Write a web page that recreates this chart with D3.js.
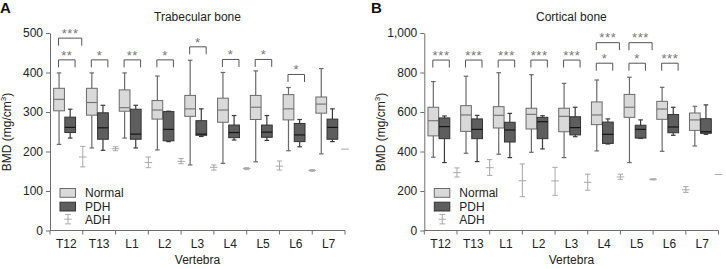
<!DOCTYPE html>
<html>
<head>
<meta charset="utf-8">
<script src="https://cdn.jsdelivr.net/npm/d3@7"></script>
<style>
  body { margin: 0; background: #fff; }
  text { font-family: Arial, "Liberation Sans", sans-serif; }
</style>
</head>
<body>
<script>
const vertebrae = ["T12", "T13", "L1", "L2", "L3", "L4", "L5", "L6", "L7"];

// box stats: [min, q1, median, q3, max]
const trabNormal = [
  [218, 303, 332, 360, 399], [209, 292, 324, 360, 399], [234, 302, 311, 356, 399],
  [204, 282, 305, 329, 391], [166, 289, 308, 342, 431], [170, 274, 305, 335, 400],
  [174, 281, 312, 342, 404], [202, 280, 308, 344, 362], [194, 297, 320, 338, 410]
];
const trabPDH = [
  [234, 248, 261, 287, 307], [203, 231, 260, 298, 317], [209, 231, 244, 307, 317],
  [225, 227, 256, 301, 302], [238, 241, 244, 278, 308], [229, 235, 248, 267, 291],
  [228, 236, 249, 267, 291], [212, 225, 242, 271, 281], [225, 231, 261, 282, 308]
];
// ADH: [mean, low, high]
const trabADH = [
  [186, 161, 213], [207, 202, 212], [172, 159, 186], [175, 169, 182], [160, 153, 166],
  [157, 154, 159], [163, 153, 176], [152, 150, 154], [206, 206, 206]
];
const trabSig = [
  { cat: "T12", vs: "PDH", label: "**", level: 432 },
  { cat: "T12", vs: "ADH", label: "***", level: 487 },
  { cat: "T13", vs: "PDH", label: "*", level: 432 },
  { cat: "L1", vs: "PDH", label: "**", level: 432 },
  { cat: "L2", vs: "PDH", label: "*", level: 432 },
  { cat: "L3", vs: "PDH", label: "*", level: 465 },
  { cat: "L4", vs: "PDH", label: "*", level: 433 },
  { cat: "L5", vs: "PDH", label: "*", level: 433 },
  { cat: "L6", vs: "PDH", label: "*", level: 395 }
];
const trabTicks = [0, 100, 200, 300, 400, 500];

const cortNormal = [
  [371, 479, 556, 624, 754], [391, 502, 585, 632, 781], [386, 519, 583, 627, 799],
  [396, 514, 588, 619, 789], [369, 500, 578, 619, 745], [403, 536, 585, 651, 762],
  [344, 573, 624, 689, 776], [401, 563, 615, 654, 725], [428, 507, 560, 595, 629]
];
const cortPDH = [
  [344, 465, 526, 570, 580], [349, 465, 512, 565, 583], [369, 448, 509, 548, 593],
  [413, 465, 551, 573, 581], [475, 484, 521, 576, 624], [438, 441, 487, 549, 565],
  [466, 468, 512, 533, 560], [482, 495, 524, 587, 624], [487, 492, 500, 566, 636]
];
const cortADH = [
  [293, 271, 317], [318, 279, 359], [252, 171, 337], [251, 178, 320], [244, 204, 285],
  [271, 259, 285], [259, 256, 262], [206, 193, 222], [284, 284, 284]
];
const cortSig = [
  { cat: "T12", vs: "PDH", label: "***", level: 863 },
  { cat: "T13", vs: "PDH", label: "***", level: 863 },
  { cat: "L1", vs: "PDH", label: "***", level: 863 },
  { cat: "L2", vs: "PDH", label: "***", level: 863 },
  { cat: "L3", vs: "PDH", label: "***", level: 863 },
  { cat: "L4", vs: "PDH", label: "*", level: 847 },
  { cat: "L4", vs: "ADH", label: "***", level: 951 },
  { cat: "L5", vs: "PDH", label: "*", level: 847 },
  { cat: "L5", vs: "ADH", label: "***", level: 951 },
  { cat: "L6", vs: "PDH", label: "***", level: 847 }
];
const cortTicks = [0, 200, 400, 600, 800, 1000];

const legendItems = ["Normal", "PDH", "ADH"];

const width = 726, height = 269;
const svg = d3.select("body").append("svg")
  .attr("width", width)
  .attr("height", height);

const axisColor = "#6e6e6e";

function drawPanel(p) {
  const x = d3.scaleBand().domain(vertebrae).range([p.left, p.right]);
  const y = d3.scaleLinear().domain([0, p.yMax]).range([230.5, 33]);
  const bw = x.bandwidth();
  const g = svg.append("g");

  // panel letter + title
  g.append("text").attr("x", p.letterX).attr("y", 13)
    .attr("font-size", 15).attr("font-weight", "bold").attr("fill", "#111")
    .text(p.letter);
  g.append("text").attr("x", (p.left + p.right) / 2).attr("y", 21)
    .attr("text-anchor", "middle").attr("font-size", 12).attr("fill", "#222")
    .text(p.title);

  // y axis
  const ya = g.append("g")
    .attr("transform", `translate(${p.left},0)`)
    .call(d3.axisLeft(y).tickValues(p.ticks).tickFormat(d3.format(",")).tickSize(4).tickSizeOuter(0).tickPadding(3));
  ya.select(".domain").attr("stroke", axisColor);
  ya.selectAll(".tick line").attr("stroke", axisColor);
  ya.selectAll(".tick text").attr("font-size", 12).attr("fill", "#222")
    .attr("font-family", "Arial, 'Liberation Sans', sans-serif");

  // y label
  const yl = g.append("text")
    .attr("transform", `translate(${p.labelX},132) rotate(-90)`)
    .attr("text-anchor", "middle").attr("font-size", 12).attr("fill", "#222");
  yl.append("tspan").text("BMD (mg/cm");
  yl.append("tspan").attr("font-size", 8).attr("dy", -5).text("3");
  yl.append("tspan").attr("dy", 5).text(")");

  // x axis
  g.append("line").attr("x1", p.left).attr("x2", p.right)
    .attr("y1", 230.5).attr("y2", 230.5).attr("stroke", axisColor);
  g.selectAll(".xtick").data(vertebrae.map(v => x(v)).concat([p.right]))
    .enter().append("line")
    .attr("x1", d => d).attr("x2", d => d)
    .attr("y1", 230.5).attr("y2", 234.5).attr("stroke", axisColor);
  g.selectAll(".xlab").data(vertebrae).enter().append("text")
    .attr("x", d => x(d) + bw / 2).attr("y", 248)
    .attr("text-anchor", "middle").attr("font-size", 12).attr("fill", "#222")
    .text(d => d);
  g.append("text").attr("x", (p.left + p.right) / 2).attr("y", 264)
    .attr("text-anchor", "middle").attr("font-size", 12).attr("fill", "#222")
    .text("Vertebra");

  // boxes
  function boxes(stats, offset, fill, stroke, medColor, whiskColor) {
    const bx = g.selectAll(null).data(stats).enter().append("g")
      .attr("transform", (d, i) => `translate(${x(vertebrae[i]) + offset * bw},0)`);
    const w = 0.328 * bw, cx = w / 2;
    bx.append("line").attr("x1", cx).attr("x2", cx)
      .attr("y1", d => y(d[4])).attr("y2", d => y(d[3])).attr("stroke", whiskColor).attr("stroke-width", 1.2);
    bx.append("line").attr("x1", cx).attr("x2", cx)
      .attr("y1", d => y(d[1])).attr("y2", d => y(d[0])).attr("stroke", whiskColor).attr("stroke-width", 1.2);
    [0, 4].forEach(k => {
      bx.append("line").attr("x1", cx - 2.3).attr("x2", cx + 2.3)
        .attr("y1", d => y(d[k])).attr("y2", d => y(d[k]))
        .attr("stroke", whiskColor).attr("stroke-width", 1.2);
    });
    bx.append("rect").attr("x", 0).attr("width", w)
      .attr("y", d => y(d[3])).attr("height", d => y(d[1]) - y(d[3]))
      .attr("fill", fill).attr("stroke", stroke).attr("stroke-width", 1);
    bx.append("line").attr("x1", 0).attr("x2", w)
      .attr("y1", d => y(d[2])).attr("y2", d => y(d[2]))
      .attr("stroke", medColor).attr("stroke-width", 1.2);
  }
  boxes(p.normal, 0.112, "#d9d9d9", "#6a6a6a", "#777", "#6a6a6a");
  boxes(p.pdh, 0.452, "#5e5e5e", "#333", "#151515", "#3a3a3a");

  // ADH error bars
  const adhColor = "#a8a8a8";
  const ad = g.selectAll(null).data(p.adh).enter().append("g")
    .attr("transform", (d, i) => `translate(${x(vertebrae[i]) + bw},0)`);
  ad.append("line").attr("x1", 0).attr("x2", 0)
    .attr("y1", d => y(d[2])).attr("y2", d => y(d[1])).attr("stroke", adhColor);
  [1, 2].forEach(k => {
    ad.filter(d => d[2] > d[1]).append("line").attr("x1", -2.7).attr("x2", 2.7)
      .attr("y1", d => y(d[k])).attr("y2", d => y(d[k])).attr("stroke", adhColor);
  });
  ad.append("line").attr("x1", -3.8).attr("x2", 3.8)
    .attr("y1", d => y(d[0])).attr("y2", d => y(d[0])).attr("stroke", adhColor);

  // significance brackets
  const bracketX = d => [
    x(d.cat) + 0.276 * bw - 0.5,
    d.vs === "PDH" ? x(d.cat) + 0.78 * bw - 0.5 : x(d.cat) + bw - 1
  ];
  const sg = g.selectAll(null).data(p.sigs).enter().append("g");
  sg.append("path")
    .attr("d", d => {
      const [xa, xb] = bracketX(d);
      const yb = y(d.level);
      return `M${xa},${yb + 7.5}V${yb}H${xb}V${yb + 7.5}`;
    })
    .attr("fill", "none").attr("stroke", "#555").attr("stroke-width", 1);
  sg.append("text")
    .attr("x", d => d3.mean(bracketX(d)))
    .attr("y", d => y(d.level) - 0.3)
    .attr("text-anchor", "middle").attr("font-size", 13).attr("fill", "#777")
    .attr("letter-spacing", 0.6)
    .text(d => d.label);

  // legend
  const lx = p.left + 10;
  const lg = g.selectAll(null).data(legendItems).enter().append("g")
    .attr("transform", (d, i) => `translate(${lx},${188.5 + i * 13.7})`);
  lg.filter(d => d !== "ADH").append("rect")
    .attr("width", 15.5).attr("height", 8.8)
    .attr("fill", d => d === "Normal" ? "#d9d9d9" : "#5e5e5e")
    .attr("stroke", d => d === "Normal" ? "#6a6a6a" : "#333");
  const le = lg.filter(d => d === "ADH");
  le.append("line").attr("x1", 8).attr("x2", 8).attr("y1", -1.5).attr("y2", 8).attr("stroke", adhColor);
  [-1.5, 8].forEach(v => le.append("line").attr("x1", 5).attr("x2", 11).attr("y1", v).attr("y2", v).attr("stroke", adhColor));
  le.append("line").attr("x1", 4.3).attr("x2", 11.7).attr("y1", 3.3).attr("y2", 3.3).attr("stroke", adhColor);
  lg.append("text").attr("x", 25).attr("y", 8.5)
    .attr("font-size", 12).attr("fill", "#222").text(d => d);
}

drawPanel({
  left: 50, right: 345, yMax: 500, ticks: trabTicks,
  normal: trabNormal, pdh: trabPDH, adh: trabADH, sigs: trabSig,
  title: "Trabecular bone", letter: "A", letterX: 0, labelX: 11
});
drawPanel({
  left: 424.3, right: 718.5, yMax: 1000, ticks: cortTicks,
  normal: cortNormal, pdh: cortPDH, adh: cortADH, sigs: cortSig,
  title: "Cortical bone", letter: "B", letterX: 371, labelX: 385
});
</script>
</body>
</html>
